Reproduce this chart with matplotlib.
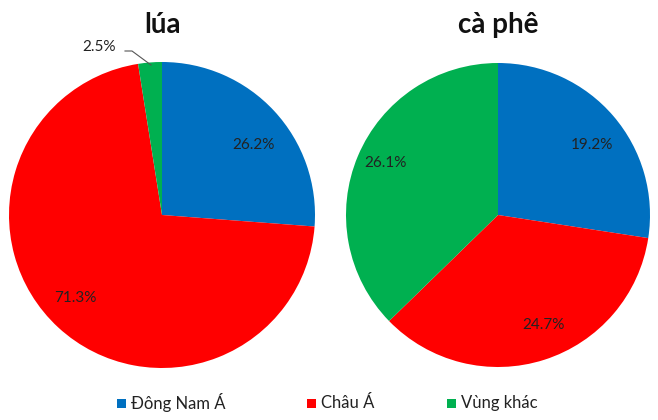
import matplotlib
matplotlib.use("Agg")
import matplotlib.pyplot as plt
from matplotlib.patches import Rectangle

plt.rcParams['font.family'] = ['Lato', 'DejaVu Sans']

categories = ["Đông Nam Á", "Châu Á", "Vùng khác"]
colors = ["#0070C0", "#FF0000", "#00B050"]
titles = ["lúa", "cà phê"]
lua_values = [26.2, 71.3, 2.5]
caphe_values = [19.2, 24.7, 26.1]
lua_labels = ["26.2%", "71.3%", "2.5%"]
caphe_labels = ["19.2%", "24.7%", "26.1%"]

W, H = 658, 420
fig = plt.figure(figsize=(W / 100, H / 100), dpi=100)


def add_pie_axes(cx, cy, r):
    ax = fig.add_axes([(cx - r) / W, (H - cy - r) / H, 2 * r / W, 2 * r / H])
    ax.set_xlim(-1, 1)
    ax.set_ylim(-1, 1)
    ax.set_aspect('equal')
    ax.axis('off')
    return ax


ax1 = add_pie_axes(162, 215, 153)
ax1.pie(lua_values, colors=colors, startangle=90, counterclock=False,
        radius=1, wedgeprops=dict(linewidth=0), frame=False)
ax1.set_xlim(-1, 1); ax1.set_ylim(-1, 1)
lbl_pos1 = [(0.595, 0.458), (-0.569, -0.542), (-0.41, 1.098)]
for (x, y), t in zip(lbl_pos1, lua_labels):
    ax1.text(x, y, t, ha='center', va='center', fontsize=11, color='#222222')
# leader line for 2.5%
ax1.plot([(125 - 162) / 153, (132 - 162) / 153, (151 - 162) / 153],
         [(215 - 51) / 153, (215 - 51) / 153, (215 - 65) / 153],
         color='#555555', lw=0.8, clip_on=False)

ax2 = add_pie_axes(498, 215, 152)
ax2.pie(caphe_values, colors=colors, startangle=90, counterclock=False,
        radius=1, wedgeprops=dict(linewidth=0), frame=False)
ax2.set_xlim(-1, 1); ax2.set_ylim(-1, 1)
lbl_pos2 = [(0.618, 0.461), (0.296, -0.724), (-0.743, 0.342)]
for (x, y), t in zip(lbl_pos2, caphe_labels):
    ax2.text(x, y, t, ha='center', va='center', fontsize=11, color='#222222')

fig.text(162 / W, 1 - 25 / H, titles[0], ha='center', va='center',
         fontsize=20, fontweight='bold', color='#111111')
fig.text(498 / W, 1 - 25 / H, titles[1], ha='center', va='center',
         fontsize=20, fontweight='bold', color='#111111')

# legend
leg_x = [117, 307, 447]
leg_y = 403
for x, c, name in zip(leg_x, colors, categories):
    fig.patches.append(Rectangle((x / W, (H - leg_y - 4.5) / H), 9 / W, 9 / H,
                                 transform=fig.transFigure, facecolor=c,
                                 edgecolor='none'))
    fig.text((x + 14) / W, (H - leg_y) / H, name, ha='left', va='center',
             fontsize=12, color='#222222')

fig.savefig("out.png", dpi=100)
